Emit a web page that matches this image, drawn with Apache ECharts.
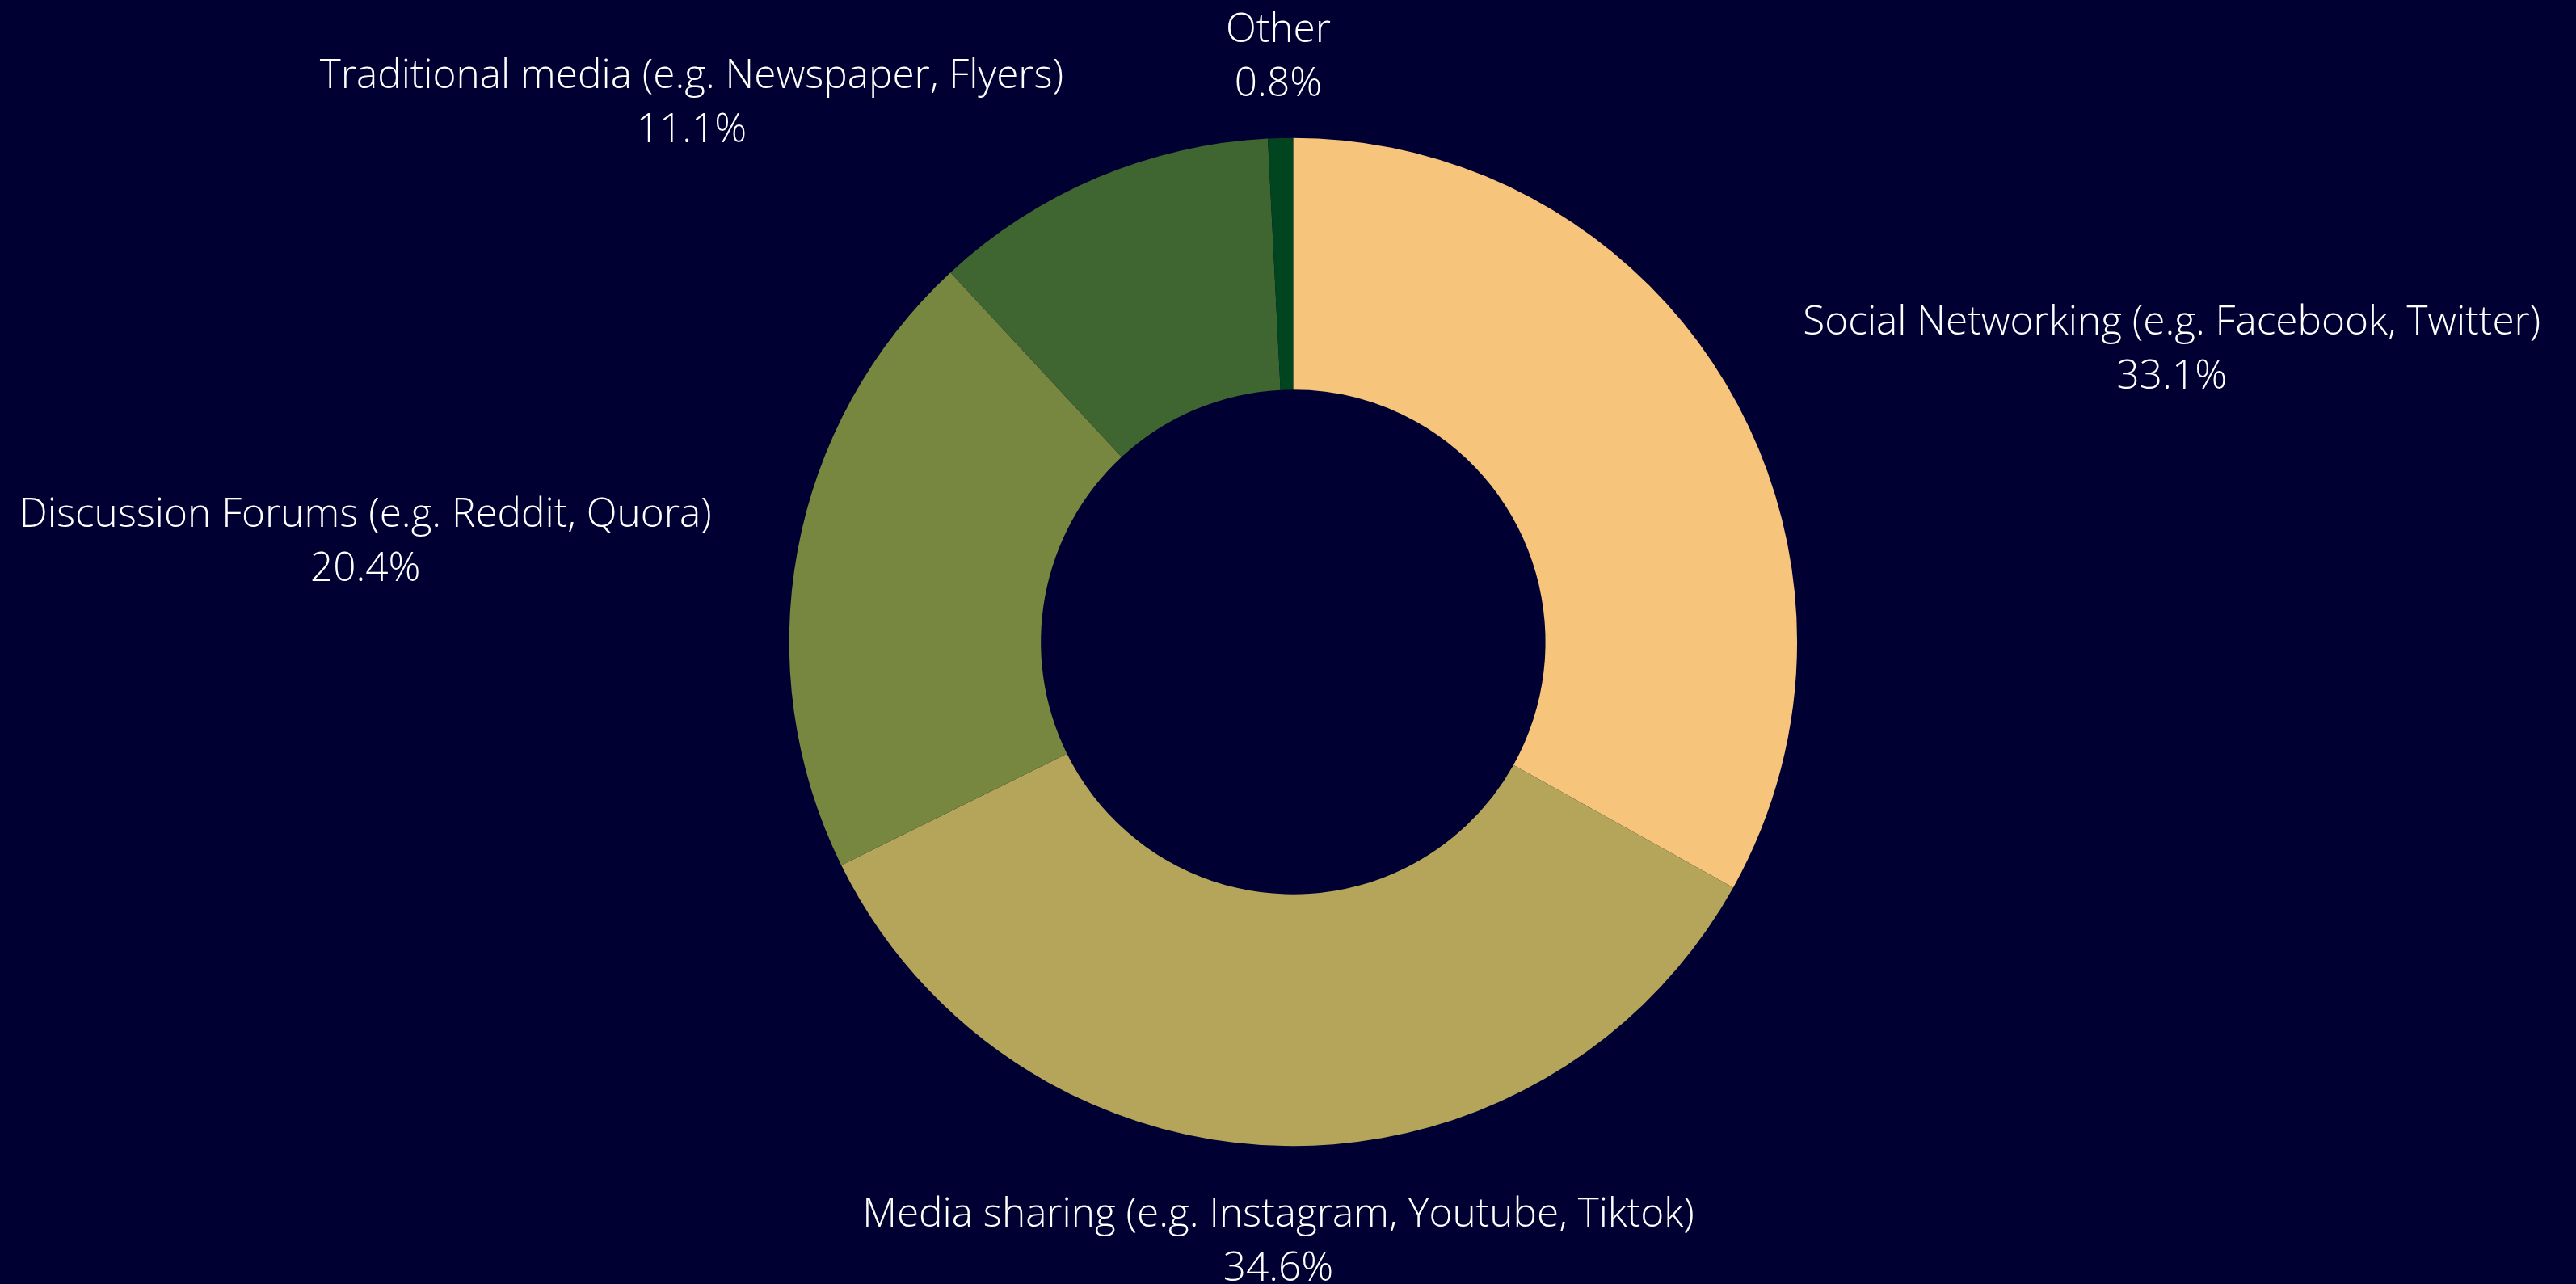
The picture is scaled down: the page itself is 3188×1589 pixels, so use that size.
<!DOCTYPE html>
<html>
<head>
<meta charset="utf-8">
<script src="https://cdn.jsdelivr.net/npm/echarts@6/dist/echarts.min.js"></script>
<style>
html,body{margin:0;padding:0;background:#000033;}
#chart{width:3188px;height:1589px;}
</style>
</head>
<body>
<div id="chart"></div>
<script>
const categories = [
  'Social Networking (e.g. Facebook, Twitter)',
  'Media sharing (e.g. Instagram, Youtube, Tiktok)',
  'Discussion Forums (e.g. Reddit, Quora)',
  'Traditional media (e.g. Newspaper, Flyers)',
  'Other'
];
const values = [33.1, 34.6, 20.4, 11.1, 0.8];
const colors = ['#F6C47A', '#B5A55A', '#778740', '#3F6630', '#004420'];

const chart = echarts.init(document.getElementById('chart'));
const CENTER_X = 0.502, CENTER_Y = 0.5, OUTER = 0.785, INNER = 0.393;
const total = values.reduce((a, b) => a + b, 0);
const mids = [];
let acc = 0;
values.forEach(v => { mids.push((acc + v / 2) / total * 2 * Math.PI); acc += v; });

chart.setOption({
  backgroundColor: '#000033',
  animation: false,
  series: [{
    type: 'pie',
    center: [(CENTER_X * 100) + '%', (CENTER_Y * 100) + '%'],
    radius: [(INNER * 100) + '%', (OUTER * 100) + '%'],
    startAngle: 90,
    clockwise: true,
    avoidLabelOverlap: false,
    itemStyle: { borderWidth: 0 },
    label: {
      show: true,
      position: 'outside',
      color: '#ffffff',
      fontFamily: 'Open Sans',
      fontWeight: 300,
      fontSize: 49.5,
      lineHeight: 67,
      align: 'center',
      formatter: p => p.name + '\n' + p.value.toFixed(1) + '%'
    },
    labelLine: { show: false },
    labelLayout: function (params) {
      const W = chart.getWidth(), H = chart.getHeight();
      const R = OUTER * Math.min(W, H) / 2;
      const cx = W * CENTER_X, cy = H * CENTER_Y;
      const a = mids[params.dataIndex];
      const ux = Math.sin(a), uy = -Math.cos(a);
      const hw = params.labelRect.width / 2, hh = params.labelRect.height / 2;
      const px = cx + (R + 108) * ux;
      let x;
      if (Math.abs(ux) < 0.2) x = px;
      else x = px + (ux > 0 ? hw : -hw);
      const y = cy + (R + 66) * uy + uy * hh * 0.5 + (1 + uy) * 10;
      return { x: x, y: y, align: 'center', verticalAlign: 'middle' };
    },
    data: categories.map((c, i) => ({ name: c, value: values[i], itemStyle: { color: colors[i] } }))
  }]
});
</script>
</body>
</html>
